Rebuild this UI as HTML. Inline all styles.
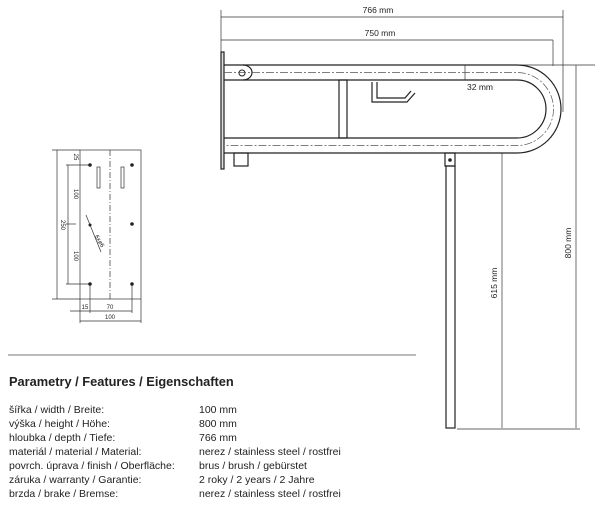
<!DOCTYPE html>
<html><head><style>
html,body{margin:0;padding:0;background:#fff;}
svg{display:block;}
text{font-family:"Liberation Sans",sans-serif;}
</style></head><body>
<svg width="612" height="505" viewBox="0 0 612 505" xmlns="http://www.w3.org/2000/svg">
<g stroke="#333" fill="none" stroke-width="0.7">
  <line x1="221" y1="17" x2="563" y2="17"/>
  <line x1="563" y1="10" x2="563" y2="112"/>
  <line x1="221" y1="10" x2="221" y2="52"/>
  <line x1="221" y1="40" x2="553" y2="40"/>
  <line x1="553" y1="40" x2="553" y2="66"/>
  <line x1="517" y1="65" x2="595" y2="65"/>
  <line x1="576" y1="65" x2="576" y2="428"/>
  <line x1="457" y1="429" x2="580" y2="429"/>
  <line x1="502" y1="153" x2="502" y2="428"/>
  <line x1="465" y1="65" x2="465" y2="80"/>
</g>
<g stroke="#222" fill="none" stroke-width="1.2">
  <rect x="221" y="52" width="3" height="117" fill="#ddd"/>
  <path d="M224 65 H517 A44 44 0 0 1 517 153 H224"/>
  <path d="M252 80 H517 A29 29 0 0 1 517 138 H224"/>
  <path d="M243 65 A9 7.5 0 0 1 243 80" />
  <line x1="224" y1="80" x2="252" y2="80"/>
  <rect x="339" y="80" width="8" height="58"/>
  <path d="M372 82 V102 H407 L415 93"/>
  <path d="M377 82 V98 H405 L411 91"/>
  <rect x="234" y="153" width="14" height="13"/>
  <rect x="445" y="153" width="10" height="13"/>
  <rect x="446" y="166" width="9" height="262"/>
</g>
<circle cx="242" cy="73" r="3" fill="none" stroke="#222" stroke-width="1"/>
<circle cx="450" cy="160" r="1.8" fill="#222"/>
<g stroke="#555" fill="none" stroke-width="0.7" stroke-dasharray="8 2 2 2">
  <path d="M224 72.5 H517 A36.5 36.5 0 0 1 517 145.5 H224"/>
</g>
<g font-size="8.5" fill="#222">
  <text x="378" y="13" text-anchor="middle">766 mm</text>
  <text x="380" y="36" text-anchor="middle">750 mm</text>
  <text x="467" y="90">32 mm</text>
  <text transform="translate(497,283) rotate(-90)" text-anchor="middle">615 mm</text>
  <text transform="translate(571,243) rotate(-90)" text-anchor="middle">800 mm</text>
</g>
<g stroke="#333" fill="none" stroke-width="0.7">
  <rect x="80" y="150" width="61" height="149"/>
  <line x1="52" y1="150" x2="80" y2="150"/>
  <line x1="52" y1="299" x2="80" y2="299"/>
  <line x1="57" y1="150" x2="57" y2="299"/>
  <line x1="68" y1="165" x2="68" y2="284"/>
  <line x1="66" y1="165" x2="90" y2="165"/>
  <line x1="66" y1="284" x2="90" y2="284"/>
  <line x1="66" y1="224" x2="76" y2="224"/>
  <line x1="110" y1="150" x2="110" y2="299" stroke-dasharray="6 2 1 2"/>
  <rect x="97" y="167" width="3" height="21"/>
  <rect x="121" y="167" width="3" height="21"/>
  <line x1="80" y1="299" x2="80" y2="323"/>
  <line x1="90" y1="284" x2="90" y2="313"/>
  <line x1="132" y1="284" x2="132" y2="313"/>
  <line x1="141" y1="299" x2="141" y2="323"/>
  <line x1="70" y1="311" x2="132" y2="311"/>
  <line x1="80" y1="321" x2="141" y2="321"/>
  <line x1="86" y1="215" x2="101" y2="252"/>
</g>
<g fill="#222">
  <circle cx="90" cy="165" r="1.8"/><circle cx="132" cy="165" r="1.8"/>
  <circle cx="132" cy="224" r="1.8"/><circle cx="90" cy="284" r="1.8"/>
  <circle cx="132" cy="284" r="1.8"/><circle cx="90" cy="225" r="1.5"/>
</g>
<g font-size="6" fill="#222">
  <text transform="translate(74,157) rotate(90)" text-anchor="middle">25</text>
  <text transform="translate(74,194) rotate(90)" text-anchor="middle">100</text>
  <text transform="translate(61,225) rotate(90)" text-anchor="middle">250</text>
  <text transform="translate(74,256) rotate(90)" text-anchor="middle">100</text>
  <text transform="translate(98,242) rotate(60)" text-anchor="middle">6x⌀6</text>
  <text x="85" y="309" text-anchor="middle">15</text>
  <text x="110" y="309" text-anchor="middle">70</text>
  <text x="110" y="319" text-anchor="middle">100</text>
</g>
<line x1="8" y1="355" x2="416" y2="355" stroke="#777" stroke-width="1"/>
<text x="9" y="386" font-size="12.8" font-weight="bold" fill="#222">Parametry / Features / Eigenschaften</text>
<g font-size="10.5" fill="#222">
  <text x="9" y="413">šířka / width / Breite:</text><text x="199" y="413">100 mm</text>
  <text x="9" y="427">výška / height / Höhe:</text><text x="199" y="427">800 mm</text>
  <text x="9" y="441">hloubka / depth / Tiefe:</text><text x="199" y="441">766 mm</text>
  <text x="9" y="455">materiál / material / Material:</text><text x="199" y="455">nerez / stainless steel / rostfrei</text>
  <text x="9" y="469">povrch. úprava / finish / Oberfläche:</text><text x="199" y="469">brus / brush / gebürstet</text>
  <text x="9" y="483">záruka / warranty / Garantie:</text><text x="199" y="483">2 roky / 2 years / 2 Jahre</text>
  <text x="9" y="497">brzda / brake / Bremse:</text><text x="199" y="497">nerez / stainless steel / rostfrei</text>
</g>
</svg>
</body></html>
